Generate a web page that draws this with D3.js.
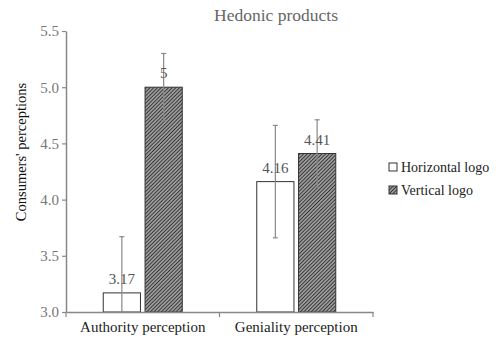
<!DOCTYPE html>
<html>
<head>
<meta charset="utf-8">
<script src="https://cdn.jsdelivr.net/npm/d3@7"></script>
<style>
  body { margin: 0; background: #fff; }
  svg text { font-family: "Liberation Serif", "Times New Roman", "DejaVu Serif", serif !important; }
</style>
</head>
<body>
<div id="chart"></div>
<script>
const categories = ["Authority perception", "Geniality perception"];
const seriesNames = ["Horizontal logo", "Vertical logo"];
const horizontalValues = [3.17, 4.16];
const verticalValues = [5, 4.41];
const horizontalErr = [0.5, 0.5];
const verticalErr = [0.3, 0.3];
const valueLabels = [["3.17", "4.16"], ["5", "4.41"]];
const yTicks = [3.0, 3.5, 4.0, 4.5, 5.0, 5.5];

const width = 498, height = 344;
const margin = { top: 31, right: 125, bottom: 32, left: 66 };
const innerW = width - margin.left - margin.right;
const innerH = height - margin.top - margin.bottom;

const svg = d3.select("#chart").append("svg")
  .attr("width", width).attr("height", height);

const defs = svg.append("defs");
const pat = defs.append("pattern")
  .attr("id", "hatch")
  .attr("patternUnits", "userSpaceOnUse")
  .attr("width", 2.6).attr("height", 2.6)
  .attr("patternTransform", "rotate(45)");
pat.append("rect").attr("width", 2.6).attr("height", 2.6).attr("fill", "#9a9a9a");
pat.append("line").attr("x1", 0).attr("y1", 0).attr("x2", 0).attr("y2", 2.6)
  .attr("stroke", "#222").attr("stroke-width", 1.5);

const g = svg.append("g").attr("transform", `translate(${margin.left},${margin.top})`);

const x0 = d3.scaleBand().domain(categories).range([0, innerW]);
const x1 = d3.scaleBand().domain(seriesNames).range([0, 79]).paddingInner(0.11);
const y = d3.scaleLinear().domain([3, 5.5]).range([innerH, 0]);

// value table from arrays
const rows = categories.map((c, i) => ({
  cat: c,
  bars: [
    { s: seriesNames[0], v: horizontalValues[i], e: horizontalErr[i], lab: valueLabels[0][i] },
    { s: seriesNames[1], v: verticalValues[i], e: verticalErr[i], lab: valueLabels[1][i] }
  ]
}));

const groups = g.selectAll(".grp").data(rows).enter().append("g")
  .attr("transform", d => `translate(${x0(d.cat) + x0.bandwidth() / 2 - 39.5},0)`);

groups.selectAll("rect").data(d => d.bars).enter().append("rect")
  .attr("x", d => x1(d.s))
  .attr("y", d => y(d.v))
  .attr("width", x1.bandwidth())
  .attr("height", d => y(3) - y(d.v))
  .attr("fill", (d, i) => i === 0 ? "#fff" : "url(#hatch)")
  .attr("stroke", "#333").attr("stroke-width", 1);

// error bars
const eb = groups.selectAll(".eb").data(d => d.bars).enter().append("g");
eb.append("line")
  .attr("x1", d => x1(d.s) + x1.bandwidth() / 2)
  .attr("x2", d => x1(d.s) + x1.bandwidth() / 2)
  .attr("y1", d => y(Math.max(3, d.v - d.e)))
  .attr("y2", d => y(d.v + d.e))
  .attr("stroke", "#888").attr("stroke-width", 1.2);
eb.append("line")
  .attr("x1", d => x1(d.s) + x1.bandwidth() / 2 - 2.5)
  .attr("x2", d => x1(d.s) + x1.bandwidth() / 2 + 2.5)
  .attr("y1", d => y(d.v + d.e)).attr("y2", d => y(d.v + d.e))
  .attr("stroke", "#888").attr("stroke-width", 1.2);
eb.filter(d => d.v - d.e > 3).append("line")
  .attr("x1", d => x1(d.s) + x1.bandwidth() / 2 - 2.5)
  .attr("x2", d => x1(d.s) + x1.bandwidth() / 2 + 2.5)
  .attr("y1", d => y(d.v - d.e)).attr("y2", d => y(d.v - d.e))
  .attr("stroke", "#888").attr("stroke-width", 1.2);

// value labels
groups.selectAll(".vl").data(d => d.bars).enter().append("text")
  .attr("x", d => x1(d.s) + x1.bandwidth() / 2)
  .attr("y", d => y(d.v) - 9)
  .attr("text-anchor", "middle")
  .attr("font-size", 15).attr("fill", "#555")
  .text(d => d.lab);

// y axis
const yAxis = g.append("g")
  .call(d3.axisLeft(y).tickValues(yTicks).tickFormat(d3.format(".1f")).tickSize(4).tickSizeOuter(0));
yAxis.select(".domain").attr("stroke", "#888").attr("stroke-width", 1.5);
yAxis.selectAll(".tick line").attr("stroke", "#888").attr("stroke-width", 1.2);
yAxis.selectAll(".tick text").attr("font-size", 15).attr("fill", "#777").attr("x", -7);

// x axis
const xAxis = g.append("g").attr("transform", `translate(0,${innerH})`)
  .call(d3.axisBottom(x0).tickSize(0).tickSizeOuter(0));
xAxis.select(".domain").attr("stroke", "#888").attr("stroke-width", 1.5);
xAxis.selectAll(".tick text").attr("font-size", 15).attr("fill", "#222").attr("dy", "1.1em");
const edges = [x0.range()[0], x0(categories[1]), x0.range()[1]];
xAxis.selectAll(".edge").data(edges).enter().append("line")
  .attr("x1", d => d).attr("x2", d => d).attr("y1", 0).attr("y2", 5)
  .attr("stroke", "#888").attr("stroke-width", 1.2);

// title
svg.append("text").attr("x", 276).attr("y", 21).attr("text-anchor", "middle")
  .attr("font-size", 17.5).attr("fill", "#666").text("Hedonic products");

// y label
svg.append("text")
  .attr("transform", "translate(26,152) rotate(-90)")
  .attr("text-anchor", "middle").attr("font-size", 14.5).attr("fill", "#111")
  .text("Consumers' perceptions");

// legend
const legend = svg.append("g").attr("transform", "translate(389,163)");
const li = legend.selectAll("g").data(seriesNames).enter().append("g")
  .attr("transform", (d, i) => `translate(0,${i * 23})`);
li.append("rect").attr("width", 8).attr("height", 8)
  .attr("fill", (d, i) => i === 0 ? "#fff" : "url(#hatch)")
  .attr("stroke", "#333");
li.append("text").attr("x", 12).attr("y", 9).attr("font-size", 14).attr("fill", "#222")
  .text(d => d);
</script>
</body>
</html>
